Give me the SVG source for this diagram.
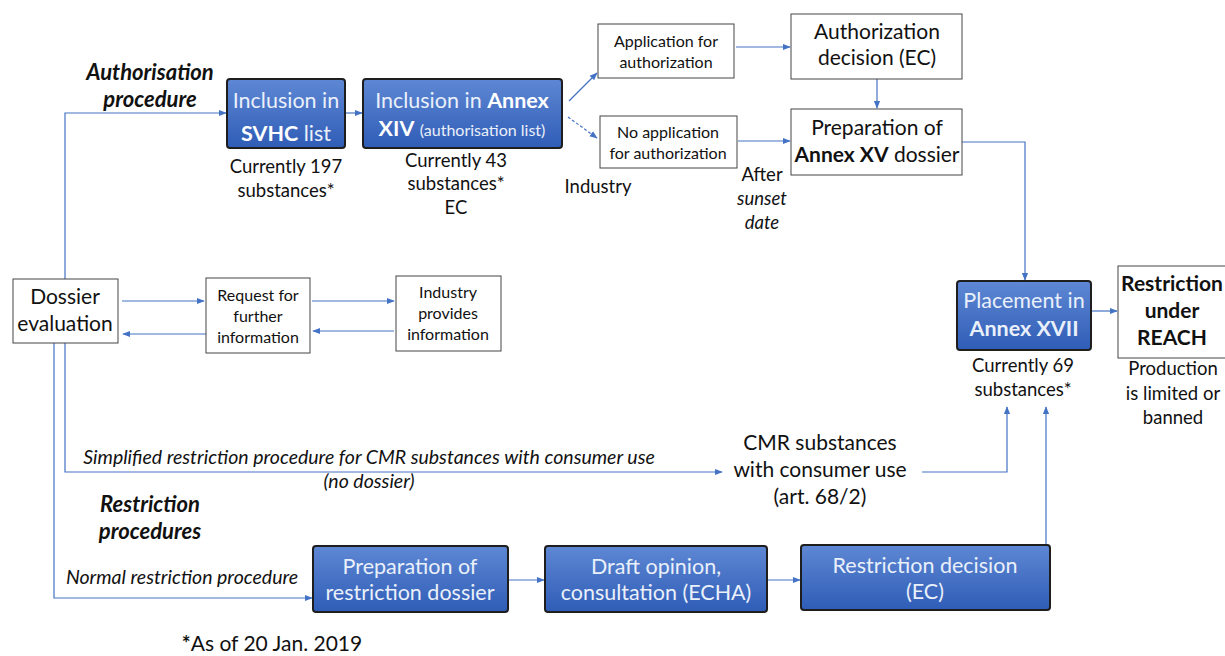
<svg xmlns="http://www.w3.org/2000/svg" width="1225" height="656" viewBox="0 0 1225 656">
<defs>
<linearGradient id="bg" x1="0" y1="0" x2="0" y2="1">
<stop offset="0" stop-color="#5E88D4"/>
<stop offset="1" stop-color="#2F5CB6"/>
</linearGradient>
<marker id="ah" viewBox="0 0 10 10" refX="9" refY="5" markerWidth="8" markerHeight="8" markerUnits="userSpaceOnUse" orient="auto">
<path d="M0,1 L10,5 L0,9 z" fill="#4472C4"/>
</marker>
</defs>
<style>
text{font-family:Lato,"Open Sans","Liberation Sans",sans-serif;fill:#111;text-anchor:middle}
.blue{fill:url(#bg);stroke:#1E1E1E;stroke-width:2}
.wbox{fill:#fff;stroke:#444;stroke-width:1}
.wt{fill:#EAF0FA;font-size:21.5px}
.b{font-weight:bold}
.i{font-style:italic}
.s13{font-size:16px}
.s16{font-size:18.5px}
.s18{font-size:21px}
.lab{font-size:22px;font-weight:bold;font-style:italic}
.it{font-size:19.5px;font-style:italic}
.ln{fill:none;stroke:#4472C4;stroke-width:1.2}
.arr{marker-end:url(#ah)}
</style>

<g id="connectors">
<path class="ln arr" d="M65,279 V113 H226"/>
<path class="ln arr" d="M345,113 H362"/>
<path class="ln arr" d="M569,101 L597,73"/>
<path class="ln arr" d="M568,117 L597,138" stroke-dasharray="3,2"/>
<path class="ln arr" d="M736,47 H790"/>
<path class="ln arr" d="M738,141 H790"/>
<path class="ln arr" d="M877,79 V108"/>
<path class="ln arr" d="M962,142 H1025 V280"/>
<path class="ln arr" d="M1091,311 H1117"/>
<path class="ln arr" d="M122,301 H204"/>
<path class="ln arr" d="M206,334 H123"/>
<path class="ln arr" d="M312,301 H394"/>
<path class="ln arr" d="M394,331 H313"/>
<path class="ln arr" d="M65,343 V472 H722"/>
<path class="ln arr" d="M922,472 H1007 V407"/>
<path class="ln arr" d="M54,343 V598 H312"/>
<path class="ln arr" d="M508,580 H544"/>
<path class="ln arr" d="M767,580 H800"/>
<path class="ln arr" d="M1050,580 H1046 V407"/>
</g>

<g id="svhc">
<rect class="blue" x="227" y="79" width="118" height="69" rx="3"/>
<text class="wt" x="286" y="108">Inclusion in</text>
<text class="wt" x="286" y="141"><tspan class="b" fill="#fff">SVHC</tspan> list</text>
<text class="s16" x="286" y="172.5">Currently 197</text>
<text class="s16" x="286" y="196.5">substances*</text>
</g>

<g id="annex14">
<rect class="blue" x="363" y="79" width="199" height="69" rx="3"/>
<text class="wt" x="462" y="108">Inclusion in <tspan class="b" fill="#fff">Annex</tspan></text>
<text class="wt" x="462" y="136"><tspan class="b" fill="#fff">XIV</tspan> <tspan font-size="16">(authorisation list)</tspan></text>
<text class="s16" x="456" y="166.5">Currently 43</text>
<text class="s16" x="456" y="189.5">substances*</text>
<text class="s16" x="456" y="213.5">EC</text>
</g>

<g id="application">
<rect class="wbox" x="598" y="24" width="136" height="54"/>
<text class="s13" x="666" y="46.5">Application for</text>
<text class="s13" x="666" y="67.5">authorization</text>
</g>

<g id="noapplication">
<rect class="wbox" x="600" y="116" width="137" height="52"/>
<text class="s13" x="668" y="137.5">No application</text>
<text class="s13" x="668" y="158.5">for authorization</text>
<text class="s16" x="598" y="192.5">Industry</text>
<text class="s16" x="762" y="180.5">After</text>
<text class="s16 i" x="762" y="204.5">sunset</text>
<text class="s16 i" x="762" y="228.5">date</text>
</g>

<g id="authdecision">
<rect class="wbox" x="791" y="14" width="171" height="65"/>
<text class="s18" x="877" y="39">Authorization</text>
<text class="s18" x="877" y="65">decision (EC)</text>
</g>

<g id="annex15">
<rect class="wbox" x="791" y="109" width="171" height="66"/>
<text class="s18" x="877" y="135">Preparation of</text>
<text class="s18" x="877" y="162"><tspan class="b">Annex XV</tspan> dossier</text>
</g>

<g id="placement">
<rect class="blue" x="957" y="281" width="134" height="69" rx="3"/>
<text class="wt" x="1024" y="307.5">Placement in</text>
<text class="wt b" x="1024" y="335.5" fill="#fff">Annex XVII</text>
<text class="s16" x="1023" y="371.5">Currently 69</text>
<text class="s16" x="1023" y="395.5">substances*</text>
</g>

<g id="restriction-reach">
<rect class="wbox" x="1118" y="266" width="108" height="92"/>
<text class="s18 b" x="1172" y="291">Restriction</text>
<text class="s18 b" x="1172" y="318">under</text>
<text class="s18 b" x="1172" y="345">REACH</text>
<text class="s16" x="1173" y="374.5">Production</text>
<text class="s16" x="1173" y="399.5">is limited or</text>
<text class="s16" x="1173" y="423.5">banned</text>
</g>

<g id="dossier">
<rect class="wbox" x="13" y="279" width="105" height="64"/>
<text class="s18" x="65" y="304">Dossier</text>
<text class="s18" x="65" y="331">evaluation</text>
</g>

<g id="request">
<rect class="wbox" x="206" y="278" width="104" height="75"/>
<text class="s13" x="258" y="300.5">Request for</text>
<text class="s13" x="258" y="321.5">further</text>
<text class="s13" x="258" y="342.5">information</text>
</g>

<g id="industry">
<rect class="wbox" x="396" y="276" width="105" height="75"/>
<text class="s13" x="448" y="297.5">Industry</text>
<text class="s13" x="448" y="318.5">provides</text>
<text class="s13" x="448" y="339.5">information</text>
</g>

<g id="cmr">
<text class="s18" x="820" y="450">CMR substances</text>
<text class="s18" x="820" y="477">with consumer use</text>
<text class="s18" x="820" y="504">(art. 68/2)</text>
</g>

<g id="prep-restriction">
<rect class="blue" x="313" y="546" width="195" height="66" rx="3"/>
<text class="wt" x="410" y="573.5">Preparation of</text>
<text class="wt" x="410" y="599.5">restriction dossier</text>
</g>

<g id="draft">
<rect class="blue" x="545" y="546" width="222" height="66" rx="3"/>
<text class="wt" x="656" y="573.5">Draft opinion,</text>
<text class="wt" x="656" y="600">consultation (ECHA)</text>
</g>

<g id="restriction-decision">
<rect class="blue" x="801" y="545" width="249" height="65" rx="3"/>
<text class="wt" x="925" y="573">Restriction decision</text>
<text class="wt" x="925" y="599">(EC)</text>
</g>

<g id="labels">
<text class="lab" x="150" y="80">Authorisation</text>
<text class="lab" x="150" y="107">procedure</text>
<text class="it" x="369" y="464">Simplified restriction procedure for CMR substances with consumer use</text>
<text class="it" x="369" y="488">(no dossier)</text>
<text class="lab" x="150" y="512">Restriction</text>
<text class="lab" x="150" y="539">procedures</text>
<text class="it" x="182" y="584">Normal restriction procedure</text>
<text class="s18" x="272" y="651"><tspan class="b">*</tspan>As of 20 Jan. 2019</text>
</g>
</svg>
